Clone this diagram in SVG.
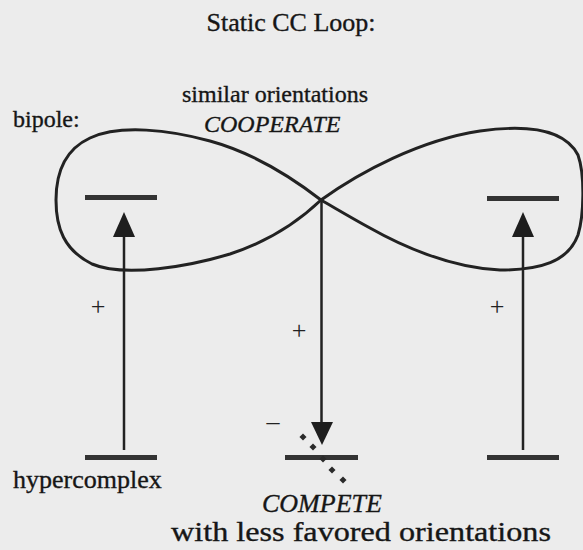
<svg xmlns="http://www.w3.org/2000/svg" width="583" height="550" viewBox="0 0 583 550">
<defs>
<style>
.t{font-family:"Liberation Serif","Times New Roman",serif;fill:#161616;stroke:#161616;stroke-width:0.35}
.i{font-style:italic}
.bar{fill:#333}
.loop{fill:none;stroke:#222;stroke-width:3;stroke-linejoin:round}
.ln{fill:none;stroke:#222;stroke-width:2.5}
.head{fill:#1e1e1e}
.dot{fill:#2a2a2a}
.pm{font-family:"Liberation Serif","Times New Roman",serif;fill:#222;text-anchor:middle}
</style>
</defs>
<rect x="0" y="0" width="583" height="550" fill="#ececec"/>
<g id="labels">
<text class="t" x="291" y="31" font-size="26" text-anchor="middle">Static CC Loop:</text>
<text class="t" x="275" y="102" font-size="24" text-anchor="middle">similar orientations</text>
<text class="t i" x="204" y="132" font-size="24">COOPERATE</text>
<text class="t" x="13" y="127" font-size="24">bipole:</text>
<text class="t" x="13" y="488" font-size="26">hypercomplex</text>
<text class="t i" x="262" y="512" font-size="26">COMPETE</text>
<text class="t" x="171" y="541" font-size="27" textLength="380" lengthAdjust="spacingAndGlyphs">with less favored orientations</text>
</g>
<g id="bipole-left">
<rect class="bar" x="85" y="195" width="72" height="5"/>
</g>
<g id="bipole-right">
<rect class="bar" x="487" y="196" width="72" height="5"/>
</g>
<g id="hypercomplex-left">
<rect class="bar" x="85" y="455" width="72" height="5"/>
</g>
<g id="hypercomplex-mid">
<rect class="bar" x="285" y="455" width="73" height="5"/>
</g>
<g id="hypercomplex-right">
<rect class="bar" x="487" y="455" width="72" height="5"/>
</g>
<g id="connectors">
<path class="loop" d="M321,200 C290,176 250,152 210,141 C170,130 120,124 90,138 C64,150 56,175 56,200 C56,228 64,250 92,264 C125,278 190,266 230,254 C270,241 300,220 321,200 Z"/>
<path class="loop" d="M321,200 C360,172 420,140 480,131 C530,124 565,130 578,155 C585,175 584,215 578,235 C568,262 540,270 500,270 C450,268 400,245 370,228 C350,217 335,208 321,200 Z"/>
<line class="ln" x1="124" y1="236" x2="124" y2="450"/>
<polygon class="head" points="124,212 113,237 135,237"/>
<line class="ln" x1="321.5" y1="200" x2="321.5" y2="423"/>
<polygon class="head" points="311,422 333,422 322,445"/>
<line class="ln" x1="523" y1="236" x2="523" y2="450"/>
<polygon class="head" points="523,212 512,237 534,237"/>
<g class="dot">
<rect x="300.5" y="434.5" width="5" height="5" transform="rotate(45 303 437)"/>
<rect x="310.5" y="444.5" width="5" height="5" transform="rotate(45 313 447)"/>
<rect x="320.5" y="456.5" width="5" height="5" transform="rotate(45 323 459)"/>
<rect x="329.5" y="467.5" width="5" height="5" transform="rotate(45 332 470)"/>
<rect x="340.5" y="477.5" width="5" height="5" transform="rotate(45 343 480)"/>
</g>
<text class="pm" x="98" y="315" font-size="26">+</text>
<text class="pm" x="299" y="339" font-size="26">+</text>
<text class="pm" x="497" y="315" font-size="26">+</text>
<text class="pm" x="273" y="430" font-size="26">–</text>
</g>
</svg>
